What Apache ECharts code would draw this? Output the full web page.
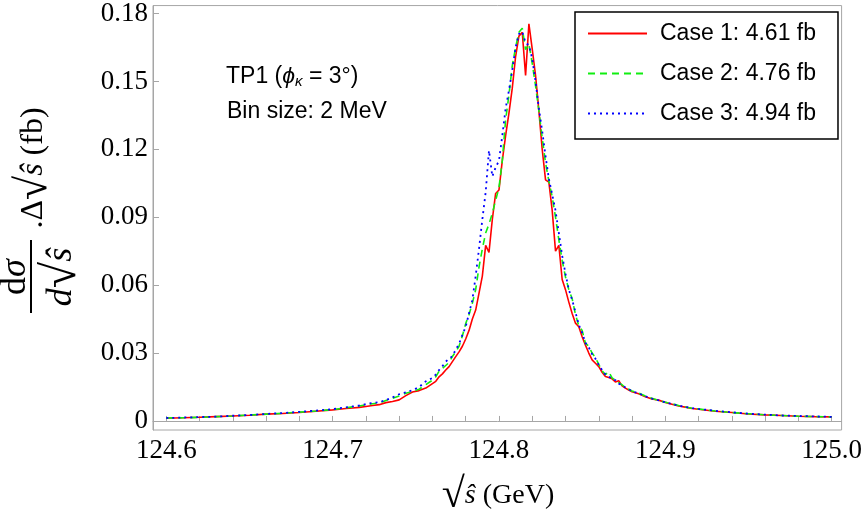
<!DOCTYPE html>
<html>
<head>
<meta charset="utf-8">
<script src="https://cdn.jsdelivr.net/npm/echarts@6/dist/echarts.min.js"></script>
<style>
  html, body { margin: 0; padding: 0; background: #fff; }
  #main { width: 865px; height: 525px; }
</style>
</head>
<body>
<div id="main"></div>
<script>
// bin positions (GeV): coarse in the tails, 2 MeV around the peak
var sqrt_s = [
    124.60, 124.61, 124.62, 124.63, 124.64, 124.65, 124.66, 124.67, 124.68, 124.69,
    124.700, 124.704, 124.708, 124.712, 124.716, 124.720, 124.724, 124.728, 124.732, 124.736,
    124.740, 124.744, 124.748, 124.752, 124.756,
    124.760, 124.762, 124.764, 124.766, 124.768, 124.770, 124.772, 124.774, 124.776, 124.778,
    124.780, 124.782, 124.784, 124.786, 124.788, 124.790, 124.792, 124.794, 124.796, 124.798,
    124.800, 124.802, 124.804, 124.806, 124.808, 124.810, 124.812, 124.814, 124.816, 124.818,
    124.820, 124.822, 124.824, 124.826, 124.828, 124.830, 124.832, 124.834, 124.836, 124.838,
    124.840, 124.842, 124.844, 124.846, 124.848, 124.850, 124.852, 124.854, 124.856, 124.858,
    124.860, 124.862, 124.864, 124.866, 124.868, 124.870, 124.872, 124.874, 124.876, 124.878,
    124.880,
    124.884, 124.888, 124.892, 124.896, 124.900, 124.904, 124.908, 124.912, 124.916,
    124.92, 124.93, 124.94, 124.95, 124.96, 124.97, 124.98, 124.99, 125.00
];

var case1 = [
    0.0012, 0.0014, 0.0016, 0.0019, 0.0022, 0.0025, 0.0030, 0.0033, 0.0037, 0.0043,
    0.0049, 0.0052, 0.0055, 0.0057, 0.0060, 0.0064, 0.0068, 0.0072, 0.0081, 0.0086,
    0.0093, 0.0112, 0.0128, 0.0134, 0.0145,
    0.0165, 0.0175, 0.0195, 0.0208, 0.0225, 0.0240, 0.0262, 0.0284, 0.0305, 0.0330,
    0.0362, 0.0400, 0.0450, 0.0490, 0.0565, 0.0640, 0.0776, 0.0745, 0.0890, 0.1005,
    0.1020, 0.1150, 0.1260, 0.1360, 0.1470, 0.1610, 0.1700, 0.1717, 0.1526, 0.1754,
    0.1643, 0.1526, 0.1370, 0.1200, 0.1065, 0.1055, 0.0930, 0.0750, 0.0776, 0.0625,
    0.0580, 0.0525, 0.0475, 0.0432, 0.0416, 0.0372, 0.0335, 0.0300, 0.0270, 0.0255,
    0.0240, 0.0215, 0.0196, 0.0192, 0.0186, 0.0172, 0.0178, 0.0155, 0.0145, 0.0137,
    0.0129,
    0.0120, 0.0107, 0.0097, 0.0092, 0.0082, 0.0074, 0.0066, 0.0061, 0.0055,
    0.0052, 0.0043, 0.0037, 0.0031, 0.0027, 0.0024, 0.0021, 0.0019, 0.0018
];

var case2 = [
    0.0013, 0.0014, 0.0016, 0.0019, 0.0022, 0.0026, 0.0030, 0.0034, 0.0039, 0.0044,
    0.0050, 0.0054, 0.0058, 0.0062, 0.0066, 0.0071, 0.0076, 0.0079, 0.0090, 0.0100,
    0.0110, 0.0122, 0.0130, 0.0140, 0.0160,
    0.0180, 0.0195, 0.0220, 0.0232, 0.0245, 0.0258, 0.0285, 0.0305, 0.0330, 0.0375,
    0.0430, 0.0470, 0.0520, 0.0580, 0.0680, 0.0760, 0.0830, 0.0870, 0.0917, 0.0975,
    0.1030, 0.1150, 0.1330, 0.1440, 0.1570, 0.1650, 0.1717, 0.1735, 0.1640, 0.1665,
    0.1580, 0.1480, 0.1370, 0.1250, 0.1140, 0.1060, 0.0990, 0.0900, 0.0800, 0.0710,
    0.0636, 0.0580, 0.0540, 0.0470, 0.0420, 0.0400, 0.0343, 0.0330, 0.0300, 0.0280,
    0.0250, 0.0222, 0.0205, 0.0218, 0.0190, 0.0180, 0.0168, 0.0160, 0.0146, 0.0140,
    0.0132,
    0.0123, 0.0110, 0.0100, 0.0090, 0.0083, 0.0076, 0.0068, 0.0062, 0.0056,
    0.0053, 0.0044, 0.0037, 0.0032, 0.0027, 0.0024, 0.0021, 0.0019, 0.0018
];

var case3 = [
    0.0013, 0.0015, 0.0017, 0.0019, 0.0023, 0.0026, 0.0031, 0.0035, 0.0040, 0.0046,
    0.0052, 0.0056, 0.0060, 0.0064, 0.0068, 0.0074, 0.0080, 0.0083, 0.0092, 0.0104,
    0.0118, 0.0126, 0.0136, 0.0150, 0.0175,
    0.0190, 0.0205, 0.0225, 0.0242, 0.0262, 0.0275, 0.0286, 0.0315, 0.0340, 0.0380,
    0.0416, 0.0476, 0.0534, 0.0640, 0.0760, 0.0890, 0.1010, 0.1195, 0.1080, 0.1120,
    0.1150, 0.1260, 0.1380, 0.1460, 0.1550, 0.1650, 0.1710, 0.1720, 0.1670, 0.1660,
    0.1600, 0.1500, 0.1380, 0.1280, 0.1170, 0.1070, 0.1000, 0.0930, 0.0830, 0.0730,
    0.0650, 0.0580, 0.0535, 0.0480, 0.0425, 0.0390, 0.0345, 0.0325, 0.0295, 0.0275,
    0.0248, 0.0225, 0.0205, 0.0195, 0.0188, 0.0180, 0.0165, 0.0158, 0.0148, 0.0140,
    0.0131,
    0.0122, 0.0109, 0.0099, 0.0091, 0.0082, 0.0075, 0.0068, 0.0062, 0.0057,
    0.0053, 0.0045, 0.0038, 0.0032, 0.0028, 0.0024, 0.0022, 0.0020, 0.0018
];

var case_names = ['Case 1: 4.61 fb', 'Case 2: 4.76 fb', 'Case 3: 4.94 fb'];
var x_labels = [124.6, 124.7, 124.8, 124.9, 125.0];
var x_ticks = [124.6, 124.62, 124.64, 124.66, 124.68, 124.7, 124.72, 124.74, 124.76, 124.78,
    124.8, 124.82, 124.84, 124.86, 124.88, 124.9, 124.92, 124.94, 124.96, 124.98, 125.0];
var y_labels = [0, 0.03, 0.06, 0.09, 0.12, 0.15, 0.18];

function pairs(vals) {
    var out = [];
    for (var i = 0; i < sqrt_s.length; i++) {
        out.push([sqrt_s[i], vals[i]]);
    }
    return out;
}

var frame = '#a6a6a6';
var serif = '"Liberation Serif", "DejaVu Serif", serif';
var sans = '"Liberation Sans", Arial, sans-serif';

var myChart = echarts.init(document.getElementById('main'), null, {renderer: 'canvas'});
var option = {
    animation: false,
    backgroundColor: '#fff',
    grid: {
        left: 153, right: 22, top: 3, bottom: 95,
        show: true, borderColor: frame, borderWidth: 1
    },
    legend: {
        orient: 'vertical',
        left: 575,
        top: 12,
        data: case_names,
        itemWidth: 59,
        itemHeight: 14,
        itemGap: 17,
        padding: [10, 22, 14, 12],
        borderColor: '#000',
        borderWidth: 1.5,
        backgroundColor: '#fff',
        // only the line sample, no marker
        itemStyle: {color: 'transparent', borderColor: 'transparent', borderWidth: 0, opacity: 0},
        textStyle: {
            fontFamily: sans,
            fontSize: 23,
            color: '#000',
            padding: [0, 0, 0, 8]
        }
    },
    xAxis: {
        type: 'value',
        min: 124.592,
        max: 125.006,
        axisLine: {show: true, lineStyle: {color: frame}},
        axisTick: {show: true, inside: true, length: 5, lineStyle: {color: frame}, customValues: x_ticks},
        axisLabel: {
            customValues: x_labels,
            color: '#000',
            fontFamily: serif,
            fontSize: 27,
            margin: 7,
            formatter: function (v) { return v.toFixed(1); }
        },
        splitLine: {show: false}
    },
    yAxis: {
        type: 'value',
        min: -0.004,
        max: 0.1835,
        axisLine: {show: true, lineStyle: {color: frame}},
        axisTick: {show: true, inside: true, length: 6, lineStyle: {color: frame}, customValues: y_labels},
        axisLabel: {
            customValues: y_labels,
            color: '#000',
            fontFamily: serif,
            fontSize: 27,
            margin: 5,
            formatter: function (v) { return v === 0 ? '0' : v.toFixed(2); }
        },
        splitLine: {show: false}
    },
    series: [
        {
            name: case_names[0], type: 'line', symbol: 'none', data: pairs(case1),
            lineStyle: {color: '#ff0000', width: 1.6}, itemStyle: {color: '#ff0000'}
        },
        {
            name: case_names[1], type: 'line', symbol: 'none', data: pairs(case2),
            lineStyle: {color: '#11ee11', width: 1.6, type: [7, 5]}, itemStyle: {color: '#11ee11'}
        },
        {
            name: case_names[2], type: 'line', symbol: 'none', data: pairs(case3),
            lineStyle: {color: '#0000ff', width: 1.8, type: [2, 4]}, itemStyle: {color: '#0000ff'}
        }
    ],
    graphic: [
        // note in the plot
        {
            type: 'text', x: 226, y: 77,
            style: {
                text: 'TP1 ({p|ϕ}{k|κ} = 3°)',
                fontFamily: sans, fontSize: 23, fill: '#000', verticalAlign: 'middle',
                rich: {
                    p: {fontFamily: sans, fontSize: 23, fontStyle: 'italic', fill: '#000'},
                    k: {fontFamily: sans, fontSize: 15, fontStyle: 'italic', fill: '#000', padding: [10, 0, 0, 0]}
                }
            }
        },
        {
            type: 'text', x: 227, y: 112,
            style: {text: 'Bin size: 2 MeV', fontFamily: sans, fontSize: 23, fill: '#000', verticalAlign: 'middle'}
        },
        // y axis title, built from pieces
        {
            type: 'text', x: 16, y: 277, rotation: Math.PI / 2,
            style: {
                text: 'd{i|σ}', fontFamily: serif, fontSize: 36, fill: '#000',
                align: 'center', verticalAlign: 'middle',
                rich: {i: {fontFamily: serif, fontSize: 36, fontStyle: 'italic', fill: '#000'}}
            }
        },
        {
            type: 'line', shape: {x1: 31, y1: 240, x2: 31, y2: 313},
            style: {stroke: '#000', lineWidth: 2}
        },
        {
            type: 'text', x: 62, y: 277, rotation: Math.PI / 2,
            style: {
                text: '{i|d}{r|√}{i|ŝ}', fontFamily: serif, fontSize: 36, fill: '#000',
                align: 'center', verticalAlign: 'middle',
                rich: {
                    i: {fontFamily: serif, fontSize: 36, fontStyle: 'italic', fill: '#000'},
                    r: {fontFamily: serif, fontSize: 48, fill: '#000'}
                }
            }
        },
        {
            type: 'text', x: 34, y: 168, rotation: Math.PI / 2,
            style: {
                text: '.Δ{r|√}{i|ŝ} (fb)', fontFamily: serif, fontSize: 32, fill: '#000',
                align: 'center', verticalAlign: 'middle',
                rich: {
                    i: {fontFamily: serif, fontSize: 32, fontStyle: 'italic', fill: '#000'},
                    r: {fontFamily: serif, fontSize: 44, fill: '#000'}
                }
            }
        },
        // x axis title
        {
            type: 'text', x: 498, y: 496,
            style: {
                text: '{r|√}{i|ŝ} (GeV)', fontFamily: serif, fontSize: 28, fill: '#000',
                align: 'center', verticalAlign: 'middle',
                rich: {
                    i: {fontFamily: serif, fontSize: 28, fontStyle: 'italic', fill: '#000'},
                    r: {fontFamily: serif, fontSize: 42, fill: '#000'}
                }
            }
        }
    ]
};
myChart.setOption(option);
</script>
</body>
</html>
